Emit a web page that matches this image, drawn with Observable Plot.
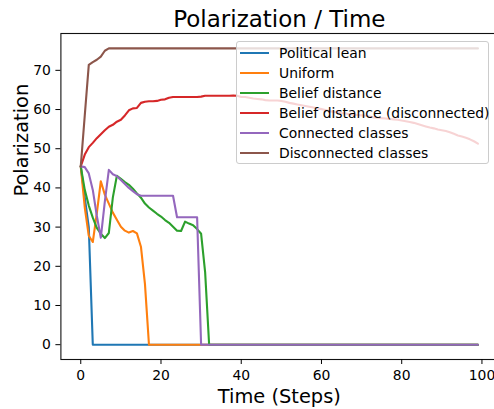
<!DOCTYPE html>
<html>
<head>
<meta charset="utf-8">
<script src="https://cdn.jsdelivr.net/npm/d3@7"></script>
<script src="https://cdn.jsdelivr.net/npm/@observablehq/plot@0.6"></script>
<style>
  html, body { margin: 0; padding: 0; background: white; }
  #wrap { position: relative; width: 494px; height: 409px; overflow: hidden; font-family: "DejaVu Sans", sans-serif; }
  #legend { position: absolute; left: 236px; top: 41px; width: 253px; height: 123px; box-sizing: border-box;
    border: 1px solid #cccccc; border-radius: 3px; background: rgba(255,255,255,0.8); }
  .row { position: absolute; left: 0; height: 20px; font-size: 13.9px; color: #000; white-space: nowrap; }
  .sw { position: absolute; left: 3px; width: 29px; height: 2px; top: 9px; }
  .lab { position: absolute; left: 42px; top: 1px; line-height: 18px; }
</style>
</head>
<body>
<div id="wrap"><div id="chart"></div><div id="legend"></div></div>
<script>
// ---- data, one value per step 0..99 ----
const seriesNames = ["Political lean", "Uniform", "Belief distance", "Belief distance (disconnected)", "Connected classes", "Disconnected classes"];
const seriesColors = ["#1f77b4", "#ff7f0e", "#2ca02c", "#d62728", "#9467bd", "#8c564b"];
const xTicks = [0, 20, 40, 60, 80, 100];
const yTicks = [0, 10, 20, 30, 40, 50, 60, 70];

const politicalLean = [
  45.5, 37.5, 30.0, 0, 0, 0, 0, 0, 0, 0,
  0, 0, 0, 0, 0, 0, 0, 0, 0, 0,
  0, 0, 0, 0, 0, 0, 0, 0, 0, 0,
  0, 0, 0, 0, 0, 0, 0, 0, 0, 0,
  0, 0, 0, 0, 0, 0, 0, 0, 0, 0,
  0, 0, 0, 0, 0, 0, 0, 0, 0, 0,
  0, 0, 0, 0, 0, 0, 0, 0, 0, 0,
  0, 0, 0, 0, 0, 0, 0, 0, 0, 0,
  0, 0, 0, 0, 0, 0, 0, 0, 0, 0,
  0, 0, 0, 0, 0, 0, 0, 0, 0, 0];
const uniform = [
  45.5, 35.0, 27.8, 26.2, 33.5, 41.7, 38.3, 36.0, 33.7, 31.9,
  30.1, 29.1, 28.6, 29.0, 28.4, 25.0, 15.5, 0, 0, 0,
  0, 0, 0, 0, 0, 0, 0, 0, 0, 0,
  0, 0, 0, 0, 0, 0, 0, 0, 0, 0,
  0, 0, 0, 0, 0, 0, 0, 0, 0, 0,
  0, 0, 0, 0, 0, 0, 0, 0, 0, 0,
  0, 0, 0, 0, 0, 0, 0, 0, 0, 0,
  0, 0, 0, 0, 0, 0, 0, 0, 0, 0,
  0, 0, 0, 0, 0, 0, 0, 0, 0, 0,
  0, 0, 0, 0, 0, 0, 0, 0, 0, 0];
const beliefDistance = [
  45.5, 39.5, 35.5, 32.4, 29.8, 28.3, 27.2, 28.5, 37.6, 43.1,
  42.3, 41.5, 40.8, 39.8, 38.6, 37.5, 36.0, 35.0, 34.2, 33.4,
  32.7, 31.8, 31.1, 30.1, 29.1, 29.0, 31.4, 30.9, 30.5, 29.5,
  28.3, 18.5, 0, 0, 0, 0, 0, 0, 0, 0,
  0, 0, 0, 0, 0, 0, 0, 0, 0, 0,
  0, 0, 0, 0, 0, 0, 0, 0, 0, 0,
  0, 0, 0, 0, 0, 0, 0, 0, 0, 0,
  0, 0, 0, 0, 0, 0, 0, 0, 0, 0,
  0, 0, 0, 0, 0, 0, 0, 0, 0, 0,
  0, 0, 0, 0, 0, 0, 0, 0, 0, 0];
const beliefDistanceDisc = [
  45.5, 48.5, 50.4, 51.5, 52.7, 53.7, 54.7, 55.6, 56.1, 56.9,
  57.4, 58.5, 59.8, 60.3, 60.4, 61.7, 62.0, 62.1, 62.1, 62.2,
  62.5, 62.6, 63.0, 63.2, 63.2, 63.2, 63.2, 63.2, 63.2, 63.2,
  63.3, 63.5, 63.5, 63.5, 63.5, 63.5, 63.5, 63.5, 63.6, 63.5,
  63.2, 63.2, 63.0, 62.8, 62.7, 62.6, 62.4, 62.3, 62.3, 62.3,
  62.2, 62.0, 61.7, 61.5, 61.3, 61.1, 60.9, 60.7, 60.5, 60.3,
  60.1, 59.9, 59.6, 59.4, 59.3, 59.1, 59.0, 58.8, 58.7, 58.6,
  58.5, 58.4, 58.2, 58.0, 57.9, 57.8, 57.7, 57.6, 57.5, 57.4,
  57.2, 57.0, 56.8, 56.6, 56.3, 56.0, 55.7, 55.4, 55.2, 54.9,
  54.7, 54.5, 54.2, 53.8, 53.4, 53.1, 52.8, 52.4, 51.9, 51.3];
const connectedClasses = [
  45.5, 45.3, 43.7, 39.5, 32.9, 27.3, 36.5, 44.6, 43.5, 43.0,
  42.0, 41.0, 40.0, 39.2, 38.4, 38.0, 38.0, 38.0, 38.0, 38.0,
  38.0, 38.0, 38.0, 38.0, 32.5, 32.5, 32.5, 32.5, 32.5, 32.5,
  0, 0, 0, 0, 0, 0, 0, 0, 0, 0,
  0, 0, 0, 0, 0, 0, 0, 0, 0, 0,
  0, 0, 0, 0, 0, 0, 0, 0, 0, 0,
  0, 0, 0, 0, 0, 0, 0, 0, 0, 0,
  0, 0, 0, 0, 0, 0, 0, 0, 0, 0,
  0, 0, 0, 0, 0, 0, 0, 0, 0, 0,
  0, 0, 0, 0, 0, 0, 0, 0, 0, 0];
const disconnectedClasses = [
  45.5, 58.5, 71.4, 72.1, 72.7, 73.5, 75.0, 75.6, 75.6, 75.6,
  75.6, 75.6, 75.6, 75.6, 75.6, 75.6, 75.6, 75.6, 75.6, 75.6,
  75.6, 75.6, 75.6, 75.6, 75.6, 75.6, 75.6, 75.6, 75.6, 75.6,
  75.6, 75.6, 75.6, 75.6, 75.6, 75.6, 75.6, 75.6, 75.6, 75.6,
  75.6, 75.6, 75.6, 75.6, 75.6, 75.6, 75.6, 75.6, 75.6, 75.6,
  75.6, 75.6, 75.6, 75.6, 75.6, 75.6, 75.6, 75.6, 75.6, 75.6,
  75.6, 75.6, 75.6, 75.6, 75.6, 75.6, 75.6, 75.6, 75.6, 75.6,
  75.6, 75.6, 75.6, 75.6, 75.6, 75.6, 75.6, 75.6, 75.6, 75.6,
  75.6, 75.6, 75.6, 75.6, 75.6, 75.6, 75.6, 75.6, 75.6, 75.6,
  75.6, 75.6, 75.6, 75.6, 75.6, 75.6, 75.6, 75.6, 75.6, 75.6];

const allSeries = [politicalLean, uniform, beliefDistance, beliefDistanceDisc, connectedClasses, disconnectedClasses];
const rows = allSeries.flatMap((vals, i) => vals.map((v, step) => ({step, value: v, series: seriesNames[i]})));

const chart = Plot.plot({
  width: 494,
  height: 409,
  marginLeft: 60.4,
  marginRight: -3.3,
  marginTop: 33,
  marginBottom: 50,
  style: {fontFamily: "DejaVu Sans", fontSize: "13.9px", color: "#000", background: "white", overflow: "hidden"},
  x: {domain: [-4.95, 103.95], label: null},
  y: {domain: [-3.78, 79.4], label: null},
  color: {domain: seriesNames, range: seriesColors},
  marks: [
    Plot.line(rows, {x: "step", y: "value", z: "series", stroke: "series", strokeWidth: 2.1}),
    Plot.frame({stroke: "#111", strokeWidth: 1.1}),
    Plot.axisX({ticks: xTicks, tickSize: 5, tickPadding: 6, fontSize: 13.9, label: null, tickFormat: d => String(d)}),
    Plot.axisY({ticks: yTicks, tickSize: 5, tickPadding: 5, fontSize: 13.9, label: null}),
    Plot.text(["Polarization / Time"], {frameAnchor: "top", lineAnchor: "bottom", dy: -6.5, fontSize: 23, fill: "#000"}),
    Plot.text(["Time (Steps)"], {frameAnchor: "bottom", lineAnchor: "bottom", dy: 43.5, fontSize: 19.4, fill: "#000"}),
    Plot.text(["Polarization"], {frameAnchor: "left", rotate: -90, dx: -39, fontSize: 19.4, fill: "#000"})
  ]
});
document.getElementById("chart").appendChild(chart);

const legend = document.getElementById("legend");
seriesNames.forEach((name, i) => {
  const r = document.createElement("div");
  r.className = "row";
  r.style.top = (1 + i * 20) + "px";
  r.innerHTML = `<div class="sw" style="background:${seriesColors[i]}"></div><div class="lab"></div>`;
  r.querySelector(".lab").textContent = name;
  legend.appendChild(r);
});
</script>
</body>
</html>
